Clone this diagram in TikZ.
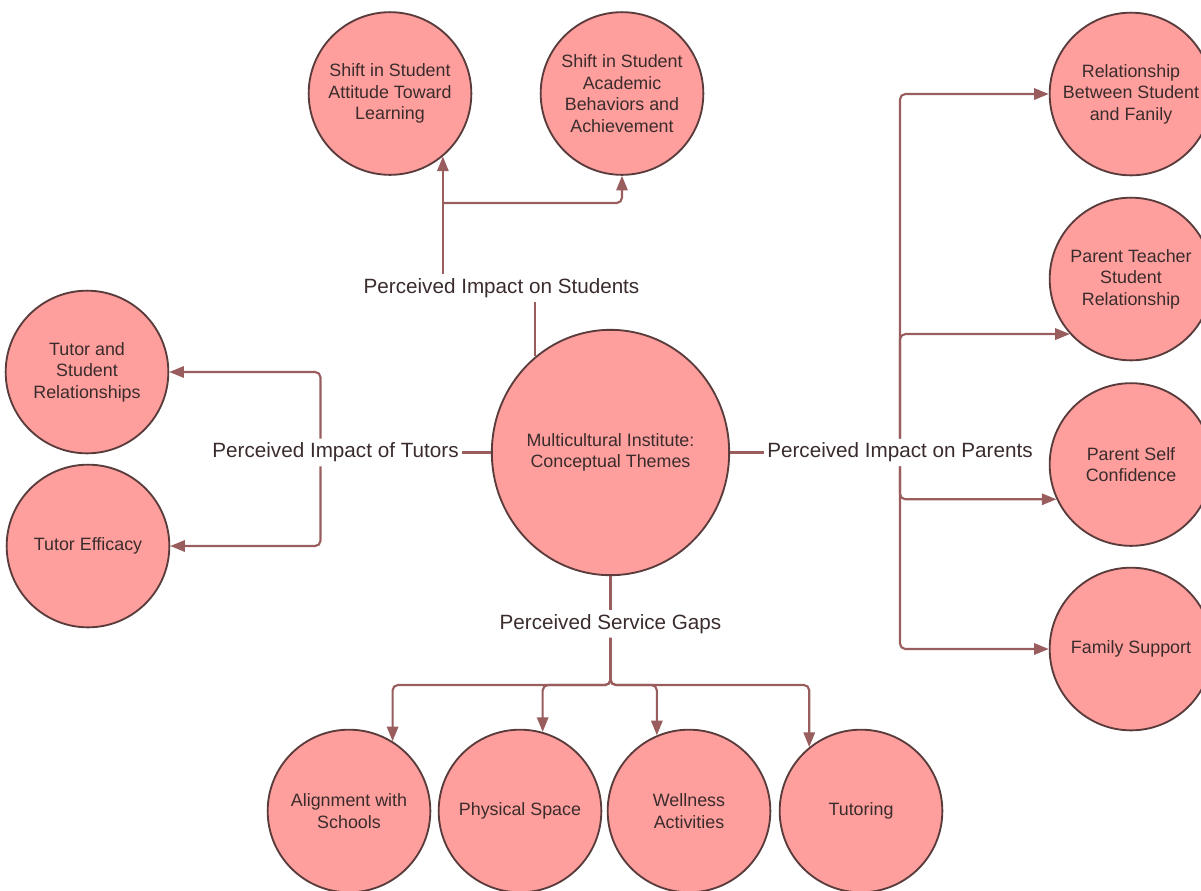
\documentclass[tikz,border=0pt]{standalone}
\usepackage{fontspec}
\setmainfont{Liberation Sans}
\usetikzlibrary{arrows.meta,shapes.geometric}
\definecolor{cfill}{HTML}{FF9F9D}
\definecolor{cline}{HTML}{5A3C3C}
\definecolor{carrow}{HTML}{9A5D5D}
\definecolor{ctext}{HTML}{3A2C2C}
\begin{document}
\begin{tikzpicture}[x=0.75pt,y=-0.75pt,
  theme/.style={circle,draw=cline,line width=1.4pt,fill=cfill,minimum size=122pt,inner sep=0pt,align=center,text=ctext,font=\fontsize{13.4}{16.1}\selectfont},
  core/.style={ellipse,draw=cline,line width=1.4pt,fill=cfill,minimum width=176pt,minimum height=184pt,inner sep=0pt,align=center,text=ctext,font=\fontsize{13.4}{16.1}\selectfont},
  lbl/.style={inner xsep=2pt,inner ysep=3pt,text=ctext,font=\fontsize{15.5}{18}\selectfont},
  conn/.style={draw=carrow,line width=1.6pt,rounded corners=4pt},
  arr/.style={conn,-{Triangle[length=11pt,width=8.5pt]}}]
\useasboundingbox (0,0) rectangle (1201,890);
% theme circles
\node[theme] (sa) at (390,93.5) {Shift in Student\\Attitude Toward\\Learning};
\node[theme] (sb) at (622,93.5) {Shift in Student\\Academic\\Behaviors and\\Achievement};
\node[theme] (rel) at (1131,94) {Relationship\\Between Student\\and Fanily};
\node[theme] (pt) at (1131,279) {Parent Teacher\\Student\\Relationship};
\node[theme] (ps) at (1131,464.5) {Parent Self\\Confidence};
\node[theme] (fs) at (1131,649) {Family Support};
\node[theme] (ts) at (87,372) {Tutor and\\Student\\Relationships};
\node[theme] (te) at (88,546) {Tutor Efficacy};
\node[core] (mi) at (610.5,452.5) {Multicultural Institute:\\Conceptual Themes};
\node[theme] (al) at (349,811) {Alignment with\\Schools};
\node[theme] (ph) at (520,811) {Physical Space};
\node[theme] (we) at (689,811) {Wellness\\Activities};
\node[theme] (tu) at (861,811) {Tutoring};
% labels
\node[lbl] (ls) at (501.5,288) {Perceived Impact on Students};
\node[lbl] (lt) at (335.5,452.5) {Perceived Impact of Tutors};
\node[lbl] (lp) at (900,452.5) {Perceived Impact on Parents};
\node[lbl] (lg) at (610.5,624) {Perceived Service Gaps};
% students
\draw[conn] (mi.128.6) -- (mi.128.6 |- ls.south);
\draw[arr] (ls.north -| sa.310) -- (sa.310);
\coordinate (jt) at (sa.310 |- 0,203);
\draw[arr] (jt) -| (sb);
% tutors
\draw[conn] (mi) -- (lt);
\coordinate (tj) at (320.5,452.5);
\draw[arr] (lt.north -| tj) |- (ts);
\draw[arr] (lt.south -| tj) |- (te);
% parents
\draw[conn] (mi) -- (lp);
\draw[arr] (lp.north) |- (rel);
\draw[arr] (lp.north) |- (pt.222);
\draw[arr] (lp.south) |- (ps.205);
\draw[arr] (lp.south) |- (fs);
% service gaps
\draw[conn] (mi) -- (lg);
\coordinate (gh) at (610.5,685);
\draw[arr] (lg.south) -- (gh) -| (al.58);
\draw[arr] (lg.south) -- (gh) -| (ph.74);
\draw[arr] (lg.south) -- (gh) -| (we.113);
\draw[arr] (lg.south) -- (gh) -| (tu.129);
\end{tikzpicture}
\end{document}
